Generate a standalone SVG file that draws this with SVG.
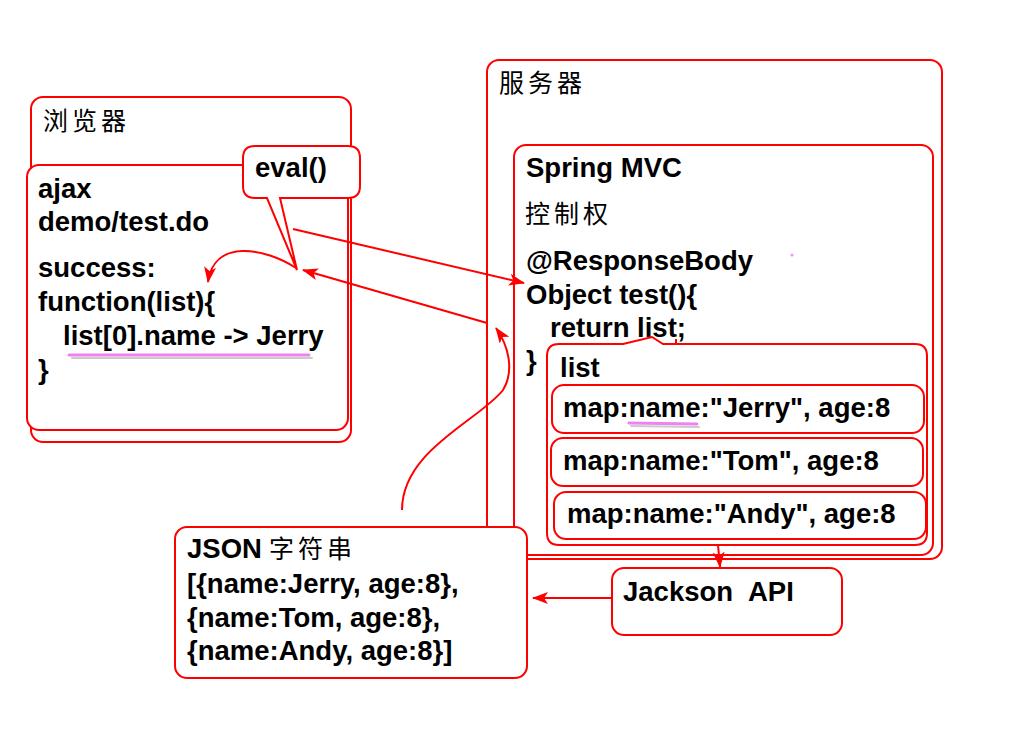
<svg xmlns="http://www.w3.org/2000/svg" width="1024" height="738" viewBox="0 0 1024 738">
<defs>
<style>
.box{fill:#fff;stroke:#f00;stroke-width:2}
.ln{fill:none;stroke:#f00;stroke-width:2}
.t{font-family:"Liberation Sans",Arial,sans-serif;font-weight:bold;font-size:27.5px;fill:#000}
.cjk{font-family:"Noto Sans CJK SC","Liberation Sans",sans-serif;font-size:25px;letter-spacing:4px;fill:#000}
.ul{stroke:#ee82ee;stroke-width:3;stroke-linecap:round}
.ush{stroke:#aaa;stroke-width:2;stroke-linecap:round;opacity:0.6}
</style>
<marker id="ah" markerWidth="16" markerHeight="12" refX="15" refY="6" orient="auto" markerUnits="userSpaceOnUse">
<path d="M0,0 L16,6 L0,12 L4,6 Z" fill="#f00"/>
</marker>
</defs>
<rect width="1024" height="738" fill="#fff"/>

<g id="browser">
<rect class="box" x="31" y="97" width="320" height="345" rx="12"/>
<text class="cjk" x="43" y="130">浏览器</text>
<rect class="box" x="27" y="165" width="321" height="265" rx="12"/>
<text class="t" x="38" y="198">ajax</text>
<text class="t" x="38" y="231">demo/test.do</text>
<text class="t" x="38" y="277">success:</text>
<text class="t" x="38" y="311">function(list){</text>
<text class="t" x="63" y="345">list[0].name -&gt; Jerry</text>
<text class="t" x="38" y="379">}</text>
<line class="ush" x1="72" y1="358" x2="312" y2="358"/>
<line class="ul" x1="69" y1="355" x2="309" y2="355"/>
</g>

<g id="eval">
<path class="box" d="M255,146 H348 Q360,146 360,158 V186 Q360,198 348,198 H280 L297,270 L267,198 H255 Q243,198 243,186 V158 Q243,146 255,146 Z"/>
<text class="t" x="255" y="177">eval()</text>
</g>

<g id="server">
<rect class="box" x="487" y="60" width="455" height="499" rx="12"/>
<text class="cjk" x="499" y="92">服务器</text>
</g>

<g id="springmvc">
<rect class="box" x="514" y="145" width="419" height="410" rx="12"/>
<text class="t" x="526" y="177">Spring MVC</text>
<text class="cjk" x="525" y="223">控制权</text>
<text class="t" x="526" y="270">@ResponseBody</text>
<text class="t" x="526" y="304">Object test(){</text>
<text class="t" x="550" y="337">return list;</text>
<text class="t" x="526" y="370">}</text>
<circle cx="792" cy="255" r="1.5" fill="#d070e0" opacity="0.7"/>
</g>

<g id="list">
<path class="box" d="M559,344 H623 L652,337 L663,344 H915 Q927,344 927,356 V533 Q927,545 915,545 H559 Q547,545 547,533 V356 Q547,344 559,344 Z"/>
<line class="ln" x1="676" y1="339" x2="676" y2="344"/>
<text class="t" x="560" y="377">list</text>
</g>

<g id="map-jerry">
<rect class="box" x="552" y="385" width="372" height="48" rx="12"/>
<text class="t" x="563" y="417">map:name:"Jerry", age:8</text>
<line class="ush" x1="631" y1="426" x2="699" y2="427"/>
<line class="ul" x1="629" y1="423" x2="697" y2="424"/>
</g>

<g id="map-tom">
<rect class="box" x="551" y="438" width="372" height="48" rx="12"/>
<text class="t" x="563" y="470">map:name:"Tom", age:8</text>
</g>

<g id="map-andy">
<rect class="box" x="554" y="492" width="372" height="47" rx="12"/>
<text class="t" x="567" y="523">map:name:"Andy", age:8</text>
</g>

<g id="jackson">
<rect class="box" x="612" y="568" width="230" height="67" rx="12"/>
<text class="t" x="623" y="601">Jackson<tspan x="748">API</tspan></text>
</g>

<g id="json">
<rect class="box" x="175" y="527" width="352" height="151" rx="12"/>
<text class="t" x="187" y="558">JSON</text>
<text class="cjk" x="269" y="558">字符串</text>
<text class="t" x="187" y="593">[{name:Jerry, age:8},</text>
<text class="t" x="187" y="627">{name:Tom, age:8},</text>
<text class="t" x="187" y="660">{name:Andy, age:8}]</text>
</g>

<g id="connectors">
<path class="ln" d="M293,229 L524,283" marker-end="url(#ah)"/>
<path class="ln" d="M487,323 L303,270" marker-end="url(#ah)"/>
<path class="ln" d="M296,268 C265,248 214,238 208,282" marker-end="url(#ah)"/>
<path class="ln" d="M402,510 C402,450 480,420 503,390 C515,370 508,345 496,328" marker-end="url(#ah)"/>
<path class="ln" d="M718,545 L720,567" marker-end="url(#ah)"/>
<path class="ln" d="M612,598 L533,598" marker-end="url(#ah)"/>
</g>
</svg>
